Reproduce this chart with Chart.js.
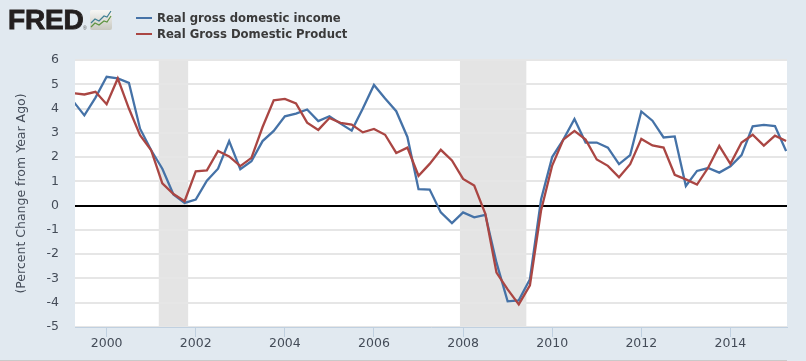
<!DOCTYPE html>
<html>
<head>
<meta charset="utf-8">
<script src="https://cdn.jsdelivr.net/npm/chart.js@4"></script>
<style>
  html, body { margin: 0; padding: 0; background: #e1e9f0; overflow: hidden; }
  #wrap { position: relative; width: 806px; height: 361px; }
  #chart { display: block; }
  #logo { position: absolute; left: 8px; top: 4px; font: 900 28px "Liberation Sans", sans-serif; color: #231f20; -webkit-text-stroke: 0.9px #231f20; letter-spacing: -0.2px; }
  #reg { position: absolute; left: 83px; top: 25px; font: 5px "Liberation Sans", sans-serif; color: #555; }
  #icon { position: absolute; left: 90px; top: 10px; }
  #legend { position: absolute; left: 136px; top: 10px; font: bold 11.65px "DejaVu Sans", sans-serif; color: #3a3a3a; }
  #legend div { height: 16px; line-height: 16px; white-space: nowrap; }
  #legend i { display: inline-block; width: 16px; height: 2px; margin-right: 5px; vertical-align: 3px; }
  #rule { position: absolute; left: 0; bottom: 0; width: 787px; height: 1px; background: #c9c9c9; }
</style>
</head>
<body>
<div id="wrap">
  <canvas id="chart" width="806" height="361"></canvas>
  <div id="logo">FRED</div>
  <div id="reg">®</div>
  <svg id="icon" width="23" height="21">
    <defs>
      <linearGradient id="tile" x1="0" y1="0" x2="0" y2="1">
        <stop offset="0" stop-color="#f6f6f4"/>
        <stop offset="1" stop-color="#c8c8c0"/>
      </linearGradient>
    </defs>
    <rect width="22" height="20" rx="2" fill="url(#tile)"/>
    <polyline points="1,13 5,9 9,11 14,6 17,7 21,1" fill="none" stroke="#3f7f92" stroke-width="1.2"/>
    <polyline points="1,17 5,13 9,15 14,11 17,12 21,6" fill="none" stroke="#5e9440" stroke-width="1.2"/>
  </svg>
  <div id="legend"></div>
  <div id="rule"></div>
</div>
<script>
const seriesNames = ["Real gross domestic income", "Real Gross Domestic Product"];
const seriesColors = ["#4572a7", "#aa4643"];

// percent change from year ago, quarterly from 1999 Q2
const gdi = [
  4.3, 3.72, 4.45,
  5.31, 5.24, 5.06, 3.17,
  2.28, 1.52, 0.46, 0.11,
  0.25, 1.03, 1.52, 2.66,
  1.5, 1.83, 2.66, 3.08,
  3.68, 3.79, 3.96, 3.48,
  3.68, 3.38, 3.09, 4.0,
  4.97, 4.41, 3.89, 2.83,
  0.68, 0.66, -0.28, -0.72,
  -0.28, -0.48, -0.38, -2.35,
  -3.94, -3.9, -3.03, 0.25,
  2.0, 2.72, 3.57, 2.6,
  2.6, 2.39, 1.71, 2.08,
  3.88, 3.5, 2.81, 2.85,
  0.81, 1.43, 1.55, 1.36,
  1.62, 2.08, 3.27, 3.33,
  3.28, 2.25
];
const gdp = [
  4.63, 4.58, 4.69,
  4.18, 5.24, 4.0, 2.9,
  2.28, 0.92, 0.48, 0.18,
  1.41, 1.45, 2.25, 2.03,
  1.63, 1.97, 3.24, 4.34,
  4.4, 4.21, 3.42, 3.12,
  3.61, 3.41, 3.34, 3.02,
  3.16, 2.92, 2.17, 2.39,
  1.23, 1.72, 2.3, 1.86,
  1.1, 0.83, -0.34, -2.76,
  -3.45, -4.07, -3.28, -0.2,
  1.65, 2.72, 3.08, 2.72,
  1.9, 1.64, 1.17, 1.71,
  2.75, 2.48, 2.39, 1.27,
  1.08, 0.87, 1.56, 2.46,
  1.72, 2.6, 2.92, 2.47,
  2.88, 2.66
];
const quarters = gdi.map((v, i) => 1999.25 + i * 0.25);

// recessions as decimal years
const recessionStart = [2001.17, 2007.93];
const recessionEnd = [2001.83, 2009.42];

const xMin = 1999.29;
const xMax = 2015.27;
const tickColor = "#444c58";
const tickFont = { family: "DejaVu Sans", size: 12.5 };

const backdrop = {
  id: "backdrop",
  beforeDraw(chart) {
    const { ctx, chartArea: a, scales } = chart;
    ctx.save();
    ctx.fillStyle = "#ffffff";
    ctx.fillRect(a.left, a.top, a.right - a.left, a.bottom - a.top);
    ctx.fillStyle = "#e4e4e4";
    recessionStart.forEach((start, i) => {
      const x0 = scales.x.getPixelForValue(start);
      const x1 = scales.x.getPixelForValue(recessionEnd[i]);
      ctx.fillRect(x0, a.top, x1 - x0, a.bottom - a.top);
    });
    ctx.restore();
  },
};

document.getElementById("legend").innerHTML = seriesNames
  .map((name, i) => `<div><i style="background:${seriesColors[i]}"></i>${name}</div>`)
  .join("");

new Chart(document.getElementById("chart"), {
  type: "line",
  data: {
    datasets: [
      { label: seriesNames[1], data: quarters.map((x, i) => ({ x, y: gdp[i] })), borderColor: seriesColors[1], order: 1 },
      { label: seriesNames[0], data: quarters.map((x, i) => ({ x, y: gdi[i] })), borderColor: seriesColors[0], order: 2 },
    ],
  },
  options: {
    responsive: false,
    animation: false,
    layout: { padding: { left: 0, top: 60, right: 19, bottom: 0 } },
    elements: {
      point: { radius: 0 },
      line: { borderWidth: 2.3, tension: 0 },
    },
    plugins: { legend: { display: false }, tooltip: { enabled: false } },
    scales: {
      x: {
        type: "linear",
        min: xMin,
        max: xMax,
        afterFit: (scale) => { scale.height = 34; },
        border: { color: "#c0d0e0" },
        grid: { drawOnChartArea: false, tickColor: "#c0d0e0", tickLength: 10 },
        ticks: {
          stepSize: 2,
          includeBounds: false,
          maxRotation: 0,
          padding: -1,
          color: tickColor,
          font: tickFont,
          callback: (v) => String(v),
        },
      },
      y: {
        min: -5,
        max: 6,
        afterFit: (scale) => { scale.width = 75; },
        border: { display: false },
        grid: {
          drawTicks: false,
          lineWidth: 2,
          color: (c) => (c.tick.value === 0 ? "#000000" : "#e6e6e6"),
        },
        ticks: { stepSize: 1, padding: 16, color: tickColor, font: tickFont },
        title: {
          display: true,
          text: "(Percent Change from Year Ago)",
          color: tickColor,
          font: { family: "DejaVu Sans", size: 12.5 },
          padding: { top: 14, bottom: 0 },
        },
      },
    },
  },
  plugins: [backdrop],
});
</script>
</body>
</html>
